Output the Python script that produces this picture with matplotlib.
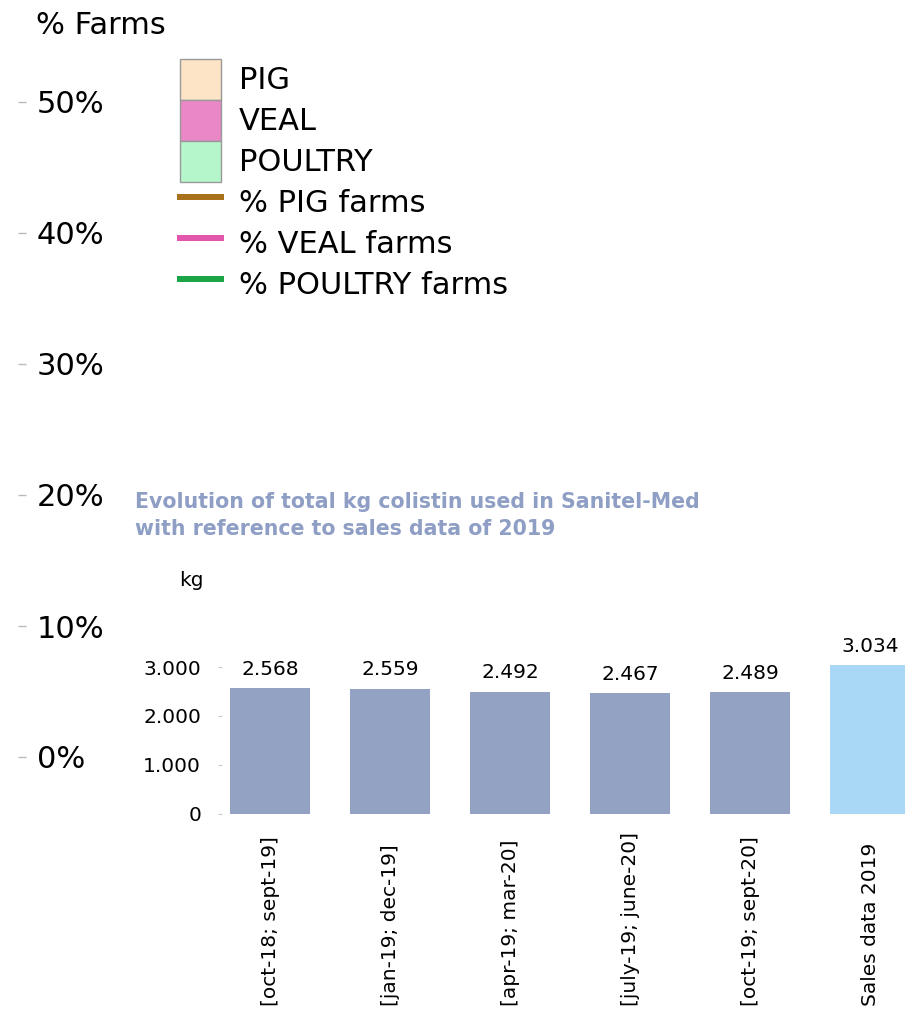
import matplotlib
matplotlib.use("Agg")
import matplotlib.pyplot as plt
from matplotlib.patches import Patch
from matplotlib.lines import Line2D

# -----------------------------------------------------
# Data
# -----------------------------------------------------

farm_ticks = [0, 10, 20, 30, 40, 50]
farm_tick_labels = ["0%", "10%", "20%", "30%", "40%", "50%"]

legend_bar_labels = ["PIG", "VEAL", "POULTRY"]
legend_bar_colors = ["#FDE4C6", "#E987C7", "#B5F6CB"]
legend_line_labels = ["% PIG farms", "% VEAL farms", "% POULTRY farms"]
legend_line_colors = ["#A8721C", "#E256AE", "#1BA547"]

periods = [
    "[oct-18; sept-19]",
    "[jan-19; dec-19]",
    "[apr-19; mar-20]",
    "[july-19; june-20]",
    "[oct-19; sept-20]",
    "Sales data 2019",
]
kg_colistin = [2568, 2559, 2492, 2467, 2489, 3034]
kg_labels = ["2.568", "2.559", "2.492", "2.467", "2.489", "3.034"]
bar_colors = ["#93A2C3"] * 5 + ["#A8D8F6"]

kg_ticks = [0, 1000, 2000, 3000]
kg_tick_labels = ["0", "1.000", "2.000", "3.000"]

W, H = 905, 1011
PT = 0.72  # points per pixel at 100 dpi

fig = plt.figure(figsize=(W / 100, H / 100), dpi=100)
fig.patch.set_facecolor("white")

# -----------------------------------------------------
# Outer % farms axis (no data drawn)
# -----------------------------------------------------

ax = fig.add_axes([18 / W, (H - 757) / H, 600 / W, 655 / H])
ax.set_ylim(0, 50)
ax.set_xlim(0, 1)
for s in ax.spines.values():
    s.set_visible(False)
ax.set_xticks([])
ax.set_yticks(farm_ticks)
ax.set_yticklabels(farm_tick_labels)
ax.tick_params(axis="y", direction="in", length=8 * PT, width=1, color="#BBBBBB",
               pad=-19 * PT, labelsize=22)
for lbl in ax.get_yticklabels():
    lbl.set_horizontalalignment("left")
ax.patch.set_alpha(0)

fig.text(36 / W, 1 - 26 / H, "% Farms", fontsize=22, va="center", ha="left")

handles = []
for lab, col in zip(legend_bar_labels, legend_bar_colors):
    handles.append(Patch(facecolor=col, edgecolor="#999999", linewidth=1, label=lab))
for lab, col in zip(legend_line_labels, legend_line_colors):
    handles.append(Line2D([], [], color=col, linewidth=6 * PT, label=lab))

lfs = 22
row_pt = 41 * PT
hh = (row_pt / lfs - 0.245) / 0.65
fig.legend(handles=handles, loc="upper left",
           bbox_to_anchor=(180 / W, 1 - 59 / H),
           frameon=False, fontsize=lfs, borderpad=0, borderaxespad=0,
           labelspacing=0, handlelength=41 * PT / lfs, handleheight=hh,
           handletextpad=18 * PT / lfs)

# -----------------------------------------------------
# Inset bar chart
# -----------------------------------------------------

fig.text(135 / W, 1 - 492 / H,
         "Evolution of total kg colistin used in Sanitel-Med\nwith reference to sales data of 2019",
         fontsize=14.8, fontweight="bold", color="#8E9EC4", va="top", ha="left",
         linespacing=1.45)

ax2 = fig.add_axes([222 / W, (H - 813.5) / H, 708 / W, 170.8 / H])
x = list(range(len(periods)))
bars = ax2.bar(x, kg_colistin, width=0.667, color=bar_colors)
ax2.set_xlim(-0.4, len(periods) - 0.5)
ax2.set_ylim(0, 3500)
for s in ax2.spines.values():
    s.set_visible(False)
ax2.set_yticks(kg_ticks)
ax2.set_yticklabels(kg_tick_labels)
ax2.tick_params(axis="y", length=4 * PT, color="#CCCCCC", labelsize=14.5, pad=17 * PT)
ax2.set_xticks(x)
ax2.set_xticklabels(periods, rotation=90, fontsize=14.5, va="bottom")
ax2.tick_params(axis="x", length=0, pad=(1006 - 813.5) * PT)
ax2.patch.set_alpha(0)

for b, lab in zip(bars, kg_labels):
    ax2.annotate(lab, (b.get_x() + b.get_width() / 2, b.get_height()),
                 xytext=(0, 19 * PT), textcoords="offset points",
                 ha="center", va="center", fontsize=14.5)

fig.text(191 / W, 1 - 581 / H, "kg", fontsize=14.5, ha="center", va="center")

plt.savefig("out.png", dpi=100)
plt.close()
